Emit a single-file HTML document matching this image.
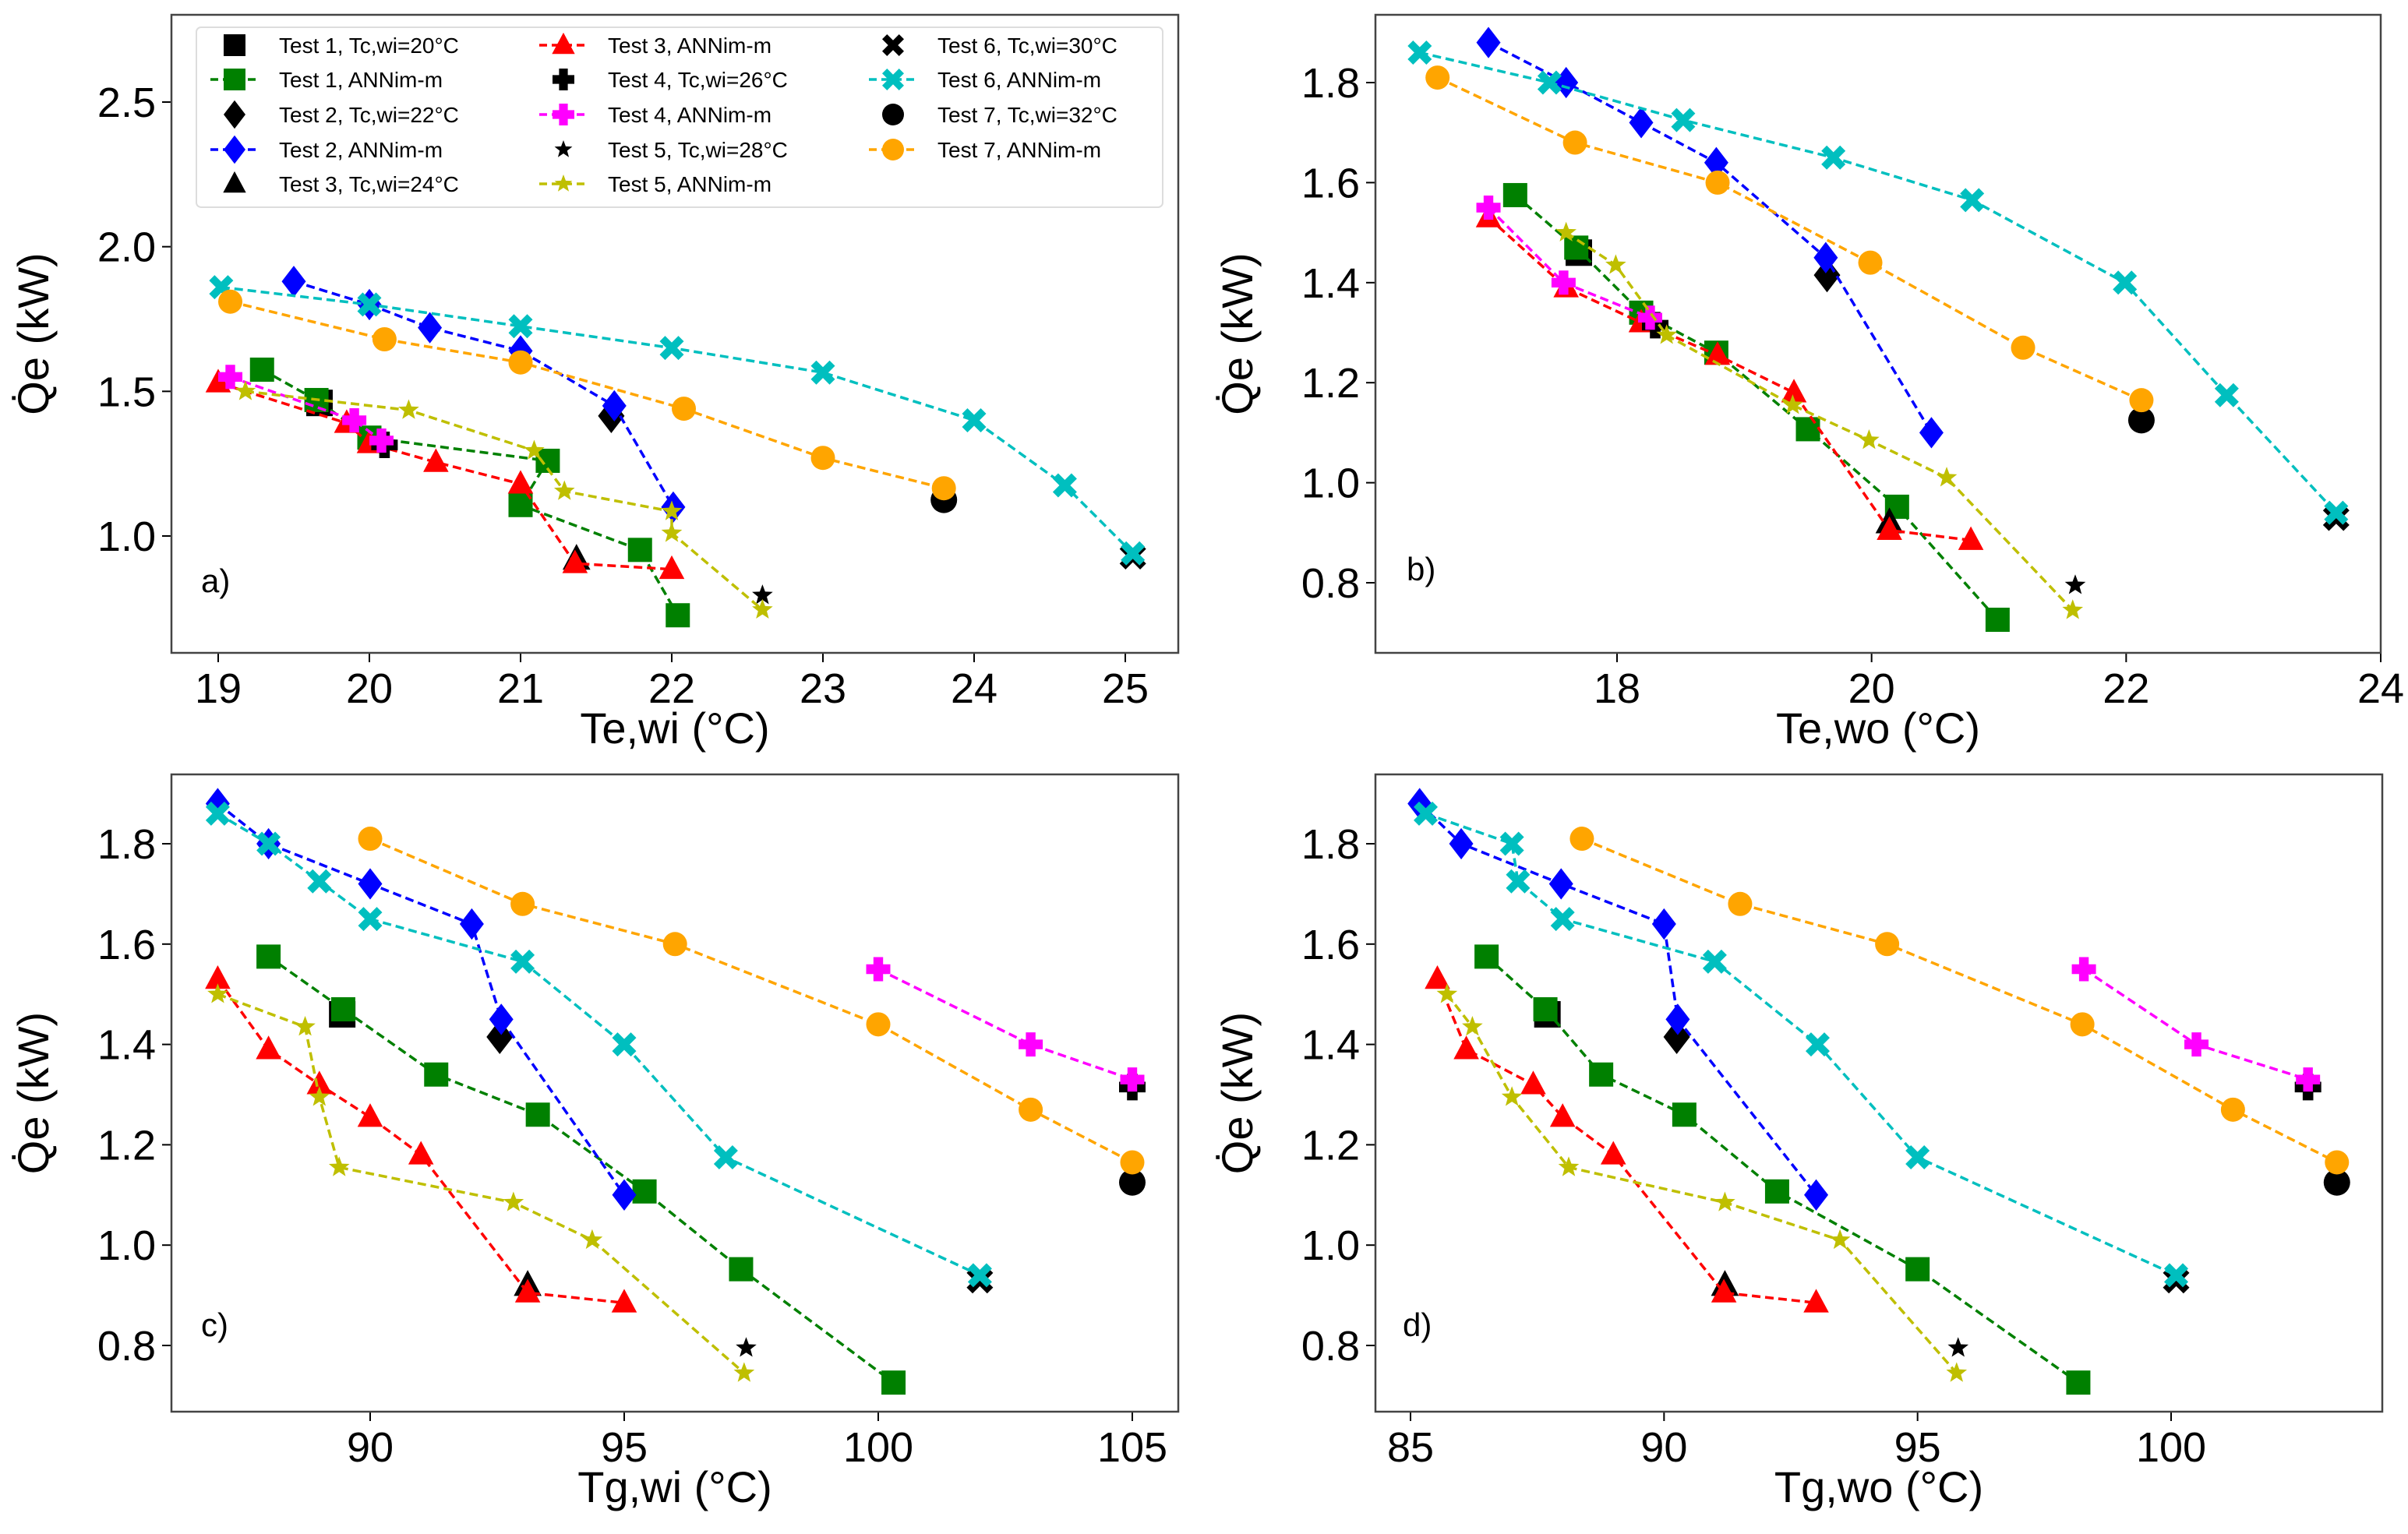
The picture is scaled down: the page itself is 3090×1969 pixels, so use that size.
<!DOCTYPE html>
<html><head><meta charset="utf-8">
<style>
html,body{margin:0;padding:0;background:#fff;}
svg{display:block;font-family:"Liberation Sans",sans-serif;}
</style></head>
<body>
<svg id="chart" width="3090" height="1969" viewBox="0 0 3090 1969" xmlns="http://www.w3.org/2000/svg"></svg>
<script>
// ---- data (Qe in kW, temperatures in °C) ----
const test1Q   = [1.575,1.47,1.34,1.26,1.107,0.952,0.726];
const test1TeWi= [19.29,19.65,20.0,21.18,21.0,21.79,22.04];
const test1TeWo= [17.2,17.68,18.19,18.78,19.5,20.2,20.99];
const test1TgWi= [88.0,89.47,91.3,93.3,95.4,97.3,100.3];
const test1TgWo= [86.5,87.66,88.76,90.4,92.23,95.0,98.17];

const test2Q   = [1.88,1.80,1.72,1.64,1.45,1.10];
const test2TeWi= [19.5,20.0,20.4,21.0,21.62,22.01];
const test2TeWo= [16.99,17.6,18.19,18.78,19.64,20.47];
const test2TgWi= [87.0,88.0,90.0,92.0,92.58,95.0];
const test2TgWo= [85.18,86.0,87.97,90.0,90.27,93.0];

const test3Q   = [1.53,1.39,1.32,1.255,1.18,0.905,0.885];
const test3TeWi= [19.0,19.85,20.0,20.44,21.0,21.36,22.0];
const test3TeWo= [16.99,17.6,18.19,18.79,19.39,20.14,20.78];
const test3TgWi= [87.0,88.0,89.0,90.0,91.0,93.1,95.0];
const test3TgWo= [85.53,86.1,87.42,88.0,89.0,91.18,93.0];

const test4Q   = [1.55,1.40,1.33];
const test4TeWi= [19.08,19.9,20.08];
const test4TeWo= [16.99,17.58,18.26];
const test4TgWi= [100.0,103.0,105.0];
const test4TgWo= [98.28,100.5,102.7];

const test5Q   = [1.50,1.435,1.295,1.155,1.085,1.01,0.745];
const test5TeWi= [19.18,20.26,21.09,21.29,22.0,22.0,22.6];
const test5TeWo= [17.6,17.99,18.39,19.38,19.98,20.59,21.58];
const test5TgWi= [87.0,88.72,89.0,89.39,92.82,94.37,97.36];
const test5TgWo= [85.72,86.22,87.0,88.12,91.2,93.47,95.77];

const test6Q   = [1.86,1.80,1.725,1.65,1.565,1.40,1.175,0.94];
const test6TeWi= [19.02,20.0,21.0,22.0,23.0,24.0,24.6,25.05];
const test6TeWo= [16.45,17.47,18.52,19.7,20.79,21.99,22.79,23.65];
const test6TgWi= [87.0,88.0,89.0,90.0,93.0,95.0,97.0,102.0];
const test6TgWo= [85.3,87.0,87.12,88.0,91.0,93.03,95.0,100.1];

const test7Q   = [1.81,1.68,1.60,1.44,1.27,1.165];
const test7TeWi= [19.08,20.1,21.0,22.08,23.0,23.8];
const test7TeWo= [16.59,17.67,18.79,19.99,21.19,22.12];
const test7TgWi= [90.0,93.0,96.0,100.0,103.0,105.0];
const test7TgWo= [88.38,91.5,94.4,98.25,101.22,103.27];

// experimental points, order Test1..Test7
const expQ    = [1.46,1.415,0.92,1.315,0.795,0.93,1.125];
const expTeWi = [19.67,21.6,21.37,20.1,22.6,25.05,23.8];
const expTeWo = [17.7,19.65,20.14,18.3,21.6,23.65,22.12];
const expTgWi = [89.45,92.55,93.1,105.0,97.4,102.0,105.0];
const expTgWo = [87.7,90.25,91.2,102.7,95.8,100.1,103.27];

const xTicksA = [19,20,21,22,23,24,25];
const xTicksB = [18,20,22,24];
const xTicksC = [90,95,100,105];
const xTicksD = [85,90,95,100];
const yTicksA = [1.0,1.5,2.0,2.5];
const yTicksB = [0.8,1.0,1.2,1.4,1.6,1.8];

const NS="http://www.w3.org/2000/svg";
const svg=document.getElementById('chart');
function el(tag,attrs,parent){const e=document.createElementNS(NS,tag);for(const k in attrs)e.setAttribute(k,attrs[k]);(parent||svg).appendChild(e);return e;}

const series=[
 {name:'test-1',marker:'square',color:'#008000',q:test1Q,x:{TeWi:test1TeWi,TeWo:test1TeWo,TgWi:test1TgWi,TgWo:test1TgWo}},
 {name:'test-2',marker:'diamond',color:'#0000ff',q:test2Q,x:{TeWi:test2TeWi,TeWo:test2TeWo,TgWi:test2TgWi,TgWo:test2TgWo}},
 {name:'test-3',marker:'triangle',color:'#ff0000',q:test3Q,x:{TeWi:test3TeWi,TeWo:test3TeWo,TgWi:test3TgWi,TgWo:test3TgWo}},
 {name:'test-4',marker:'plus',color:'#ff00ff',q:test4Q,x:{TeWi:test4TeWi,TeWo:test4TeWo,TgWi:test4TgWi,TgWo:test4TgWo}},
 {name:'test-5',marker:'star',color:'#bfbf00',q:test5Q,x:{TeWi:test5TeWi,TeWo:test5TeWo,TgWi:test5TgWi,TgWo:test5TgWo}},
 {name:'test-6',marker:'x',color:'#00bfbf',q:test6Q,x:{TeWi:test6TeWi,TeWo:test6TeWo,TgWi:test6TgWi,TgWo:test6TgWo}},
 {name:'test-7',marker:'circle',color:'#ffa500',q:test7Q,x:{TeWi:test7TeWi,TeWo:test7TeWo,TgWi:test7TgWi,TgWo:test7TgWo}}
];
const expX={TeWi:expTeWi,TeWo:expTeWo,TgWi:expTgWi,TgWo:expTgWo};

function marker(g,type,cx,cy,s,color){
  const h=s/2;let e;
  if(type==='square') e=el('rect',{x:cx-h,y:cy-h,width:s,height:s,fill:color},g);
  else if(type==='diamond') e=el('polygon',{points:`${cx},${cy-h*1.3} ${cx+h*1.0},${cy} ${cx},${cy+h*1.3} ${cx-h*1.0},${cy}`,fill:color},g);
  else if(type==='triangle') e=el('polygon',{points:`${cx},${cy-h*1.15} ${cx+h*1.05},${cy+h*0.8} ${cx-h*1.05},${cy+h*0.8}`,fill:color},g);
  else if(type==='circle') e=el('circle',{cx:cx,cy:cy,r:h,fill:color},g);
  else if(type==='plus'){const t=h*0.4;e=el('polygon',{points:`${cx-t},${cy-h} ${cx+t},${cy-h} ${cx+t},${cy-t} ${cx+h},${cy-t} ${cx+h},${cy+t} ${cx+t},${cy+t} ${cx+t},${cy+h} ${cx-t},${cy+h} ${cx-t},${cy+t} ${cx-h},${cy+t} ${cx-h},${cy-t} ${cx-t},${cy-t}`,fill:color},g);}
  else if(type==='x'){const t=h*0.45;const pts=[[0,-t],[h-t,-h],[h,-h+t],[t,0],[h,h-t],[h-t,h],[0,t],[-h+t,h],[-h,h-t],[-t,0],[-h,-h+t],[-h+t,-h]];e=el('polygon',{points:pts.map(p=>`${cx+p[0]},${cy+p[1]}`).join(' '),fill:color},g);}
  else if(type==='star'){let p=[];for(let i=0;i<10;i++){const r=i%2?h*0.42:h;const a=-Math.PI/2+i*Math.PI/5;p.push(`${cx+r*Math.cos(a)},${cy+r*Math.sin(a)}`);}e=el('polygon',{points:p.join(' '),fill:color},g);}
  return e;
}

const panels=[
 {id:'a',key:'TeWi',box:[220,19,1512,838],xr:[19,280,25,1444],yr:[2.5,131,1.0,688],xt:xTicksA,yt:yTicksA,xlabel:'Te,wi (°C)',tag:'a)',tagXY:[258,760]},
 {id:'b',key:'TeWo',box:[1765,19,3055,838],xr:[18,2075,24,3055],yr:[1.8,106,0.8,748],xt:xTicksB,yt:yTicksB,xlabel:'Te,wo (°C)',tag:'b)',tagXY:[1805,745]},
 {id:'c',key:'TgWi',box:[220,994,1512,1812],xr:[90,475,105,1453],yr:[1.8,1083,0.8,1727],xt:xTicksC,yt:yTicksB,xlabel:'Tg,wi (°C)',tag:'c)',tagXY:[258,1715]},
 {id:'d',key:'TgWo',box:[1765,994,3057,1812],xr:[85,1810,100,2786],yr:[1.8,1083,0.8,1727],xt:xTicksD,yt:yTicksB,xlabel:'Tg,wo (°C)',tag:'d)',tagXY:[1800,1715]}
];

panels.forEach(p=>{
  const X=v=>p.xr[1]+(v-p.xr[0])*(p.xr[3]-p.xr[1])/(p.xr[2]-p.xr[0]);
  const Y=v=>p.yr[1]+(v-p.yr[0])*(p.yr[3]-p.yr[1])/(p.yr[2]-p.yr[0]);
  const [l,t,r,b]=p.box;
  const g=el('g',{});
  
  
  p.xt.forEach(v=>{
    const x=X(v);
    el('line',{x1:x,y1:b,x2:x,y2:b+12,stroke:'#000','stroke-width':2},g);
    const tx=el('text',{x:x,y:b+64,'font-size':54,'text-anchor':'middle',fill:'#000'},g);
    tx.textContent=String(v);
    
    
  });
  p.yt.forEach(v=>{
    const y=Y(v);
    el('line',{x1:l-12,y1:y,x2:l,y2:y,stroke:'#000','stroke-width':2},g);
    const ty=el('text',{x:l-20,y:y+19,'font-size':54,'text-anchor':'end',fill:'#000'},g);
    ty.textContent=v.toFixed(1);
    
    
  });
  const xl=el('text',{x:(l+r)/2,y:b+116,'font-size':56,'text-anchor':'middle',fill:'#000'},g);
  xl.textContent=p.xlabel;
  
  
  const cy=(t+b)/2, lx=l-158;
  const yl=el('text',{x:lx,y:cy,'font-size':56,'text-anchor':'middle',fill:'#000',transform:`rotate(-90 ${lx} ${cy})`},g);
  yl.textContent='Q\u0307e (kW)';
  
  
  const tg=el('text',{x:p.tagXY[0],y:p.tagXY[1],'font-size':42,fill:'#000'},g);
  tg.textContent=p.tag;
  
  
  series.forEach((s,i)=>{
    const eg=el('g',{},g);
    
    
    const em=marker(eg,s.marker,X(expX[p.key][i]),Y(expQ[i]),s.marker==='star'?28:34,'#000');
    
    
    const sg=el('g',{},g);
    
    
    const xs=s.x[p.key];
    const pts=xs.map((xv,j)=>`${X(xv)},${Y(s.q[j])}`).join(' ');
    const pl=el('polyline',{points:pts,fill:'none',stroke:s.color,'stroke-width':3.5,'stroke-dasharray':'11,6'},sg);
    
    
    xs.forEach((xv,j)=>{
      const m=marker(sg,s.marker,X(xv),Y(s.q[j]),s.marker==='star'?28:31,s.color);
      
      
    });
  });
  const fr=el('rect',{x:l,y:t,width:r-l,height:b-t,fill:'none',stroke:'#444','stroke-width':2.5},g);
  
  
});

// legend in panel a
const lg=el('g',{});


el('rect',{x:252,y:35,width:1240,height:231,rx:6,fill:'#fff','fill-opacity':0.85,stroke:'#ddd','stroke-width':2},lg);
const legendEntries=[];
series.forEach((s,i)=>{
  const temps=['20','22','24','26','28','30','32'];
  legendEntries.push({label:`Test ${i+1}, Tc,wi=${temps[i]}°C`,marker:s.marker,color:'#000',line:false});
  legendEntries.push({label:`Test ${i+1}, ANNim-m`,marker:s.marker,color:s.color,line:true});
});
const colX=[270,692,1115], rowY=[58,102,147,192,236];
legendEntries.forEach((e,k)=>{
  const c=Math.floor(k/5), r=k%5;
  const x=colX[c], y=rowY[r];
  const eg=el('g',{},lg);
  
  
  if(e.line) el('line',{x1:x,y1:y,x2:x+62,y2:y,stroke:e.color,'stroke-width':3.5,'stroke-dasharray':'10,6'},eg);
  marker(eg,e.marker,x+31,y,e.marker==='star'?24:28,e.color);
  const tx=el('text',{x:x+88,y:y+10,'font-size':28,fill:'#000'},eg);
  tx.textContent=e.label;
});
</script>
</body></html>
